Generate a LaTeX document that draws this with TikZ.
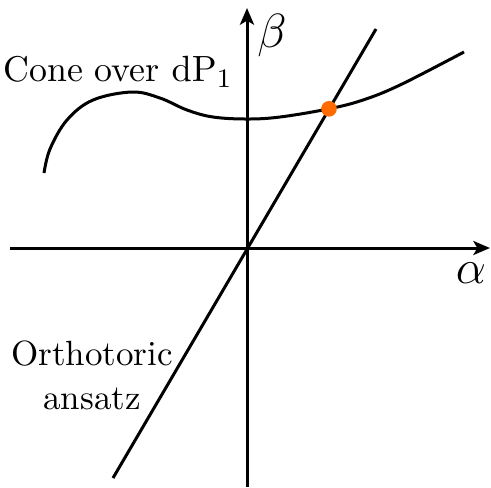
\documentclass[tikz,border=0pt]{standalone}
\usetikzlibrary{arrows.meta,positioning}
\definecolor{ink}{HTML}{000000}
\definecolor{dotorange}{HTML}{FF6A00}
\tikzset{>={Stealth[length=5pt,width=4.2pt,inset=1.2pt]},line width=.9pt,
  axis/.style={->,draw=ink,line width=.9pt},
  curve/.style={draw=ink,line width=.9pt},
  ansatzline/.style={draw=ink,line width=.9pt},
  marker/.style={circle,fill=dotorange,inner sep=0pt,minimum size=4.7pt},
  labeltext/.style={inner sep=1pt,align=center,font=\fontsize{10.5}{13.2}\selectfont},
  greek/.style={inner sep=1pt,font=\Large}}

\begin{document}
\begin{tikzpicture}[x=.3pt,y=.3pt]
\useasboundingbox (-247,-239) rectangle (244,248);
\coordinate (o) at (0,0);\coordinate (xl) at (-237,0);\coordinate (xr) at (243,0);\coordinate (yb) at (0,-239);\coordinate (yt) at (0,240);
\coordinate (lb) at (-134,-230);\coordinate (lt) at (129,219);
\draw[axis] (xl)--(xr);
\draw[axis] (yb)--(yt);
\draw[ansatzline] (lb)--(lt);
% cone over dP1
\draw[curve] plot[smooth,tension=.6] coordinates {(-203,75) (-197,99) (-180,128) (-154,148) (-115,156) (-87,150) (-60,138) (-34,131) (0,129) (33,131) (82,139.2) (116,148) (153,163) (217,196)};
\node[marker] (p) at (82,139.2) {};
\node[greek] (beta) at (25,213) {$\beta$};
\node[greek] (alpha) at (224,-25) {$\alpha$};
\node[labeltext,font=\fontsize{10.75}{13}\selectfont] (cone) at (-129,176) {Cone over $\mathrm{dP}_1$};
\node[labeltext] (orth) at (-155,-127) {Orthotoric\\ansatz};
\end{tikzpicture}
\end{document}
